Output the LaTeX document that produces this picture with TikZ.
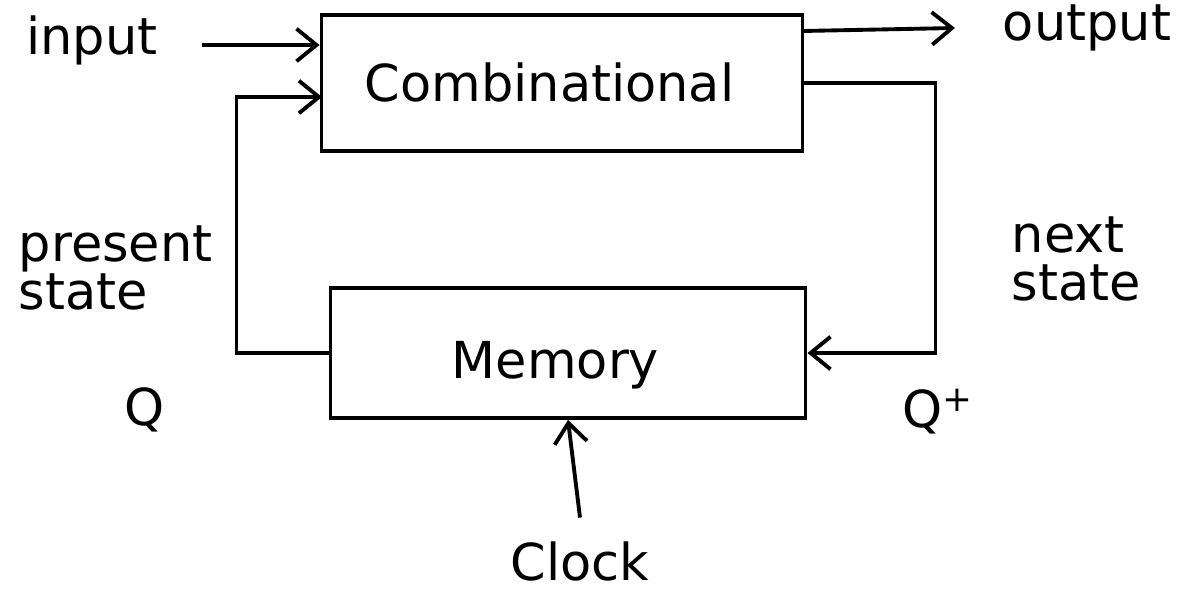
\documentclass[tikz,border=0pt]{standalone}
\usepackage{fontspec}
\setmainfont{DejaVu Sans}
\usetikzlibrary{arrows.meta,positioning}

\begin{document}
\begin{tikzpicture}[x=0.2mm,y=-0.2mm,line width=2.2pt,
  every node/.style={font=\fontsize{29}{27}\selectfont},
  >={Straight Barb[length=4mm,width=6.5mm,line width=2.2pt]}]
\useasboundingbox (0,0) rectangle (1178,590);
\node[draw,minimum width=96.2mm,minimum height=27.2mm] (comb) at (562,83) {\hspace*{-5mm}Combinational};
\node[draw,minimum width=95mm,minimum height=26mm,text height=12.4mm,text depth=2.4mm] (mem) at (568,353) {\hspace*{-5mm}Memory};
\node (input) at (92,40) {input};
\node (output) at (1087,28) {output};
\node[anchor=west,align=left] (present) at (11,268) {present\\state};
\node[anchor=west,align=left] (next) at (1004,259) {next\\state};
\node (q) at (145,410) {Q};
\node (qp) at (938,412) {Q\textsuperscript{+}};
\node[inner sep=1pt] (clock) at (580,561) {Clock};
\coordinate (inA) at (202,45);
\coordinate (psin) at (322,97);
\coordinate (outA) at (803,31);
\path[draw,->] (inA) -- (inA -| comb.west);
\path[draw,->] (mem.west) -- ++(-92,0) |- (psin);
\path[draw,->] (outA) -- ++(152,-3);
\path[draw,->] ([yshift=4mm]clock.north) -- (mem.south);
\path[draw,->] (comb.east) -- ++(131,0) |- (mem.east);
\end{tikzpicture}
\end{document}
